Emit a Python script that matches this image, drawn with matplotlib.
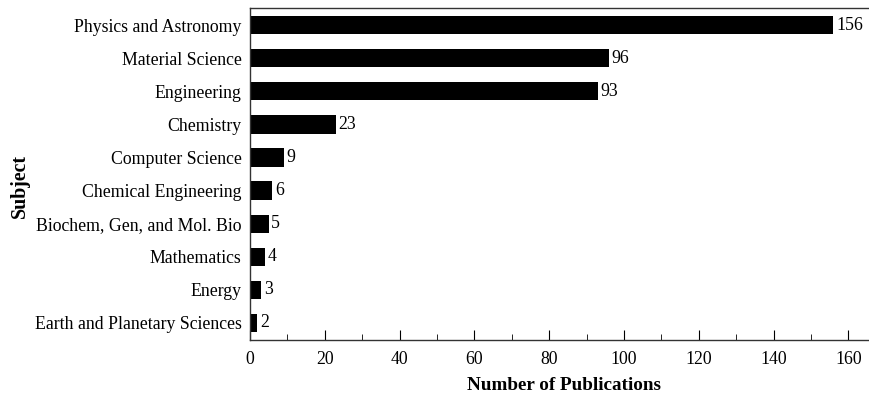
import matplotlib.pyplot as plt
from matplotlib.ticker import MultipleLocator

# publications per subject area
subjects = ['Earth and Planetary Sciences', 'Energy', 'Mathematics',
            'Biochem, Gen, and Mol. Bio', 'Chemical Engineering',
            'Computer Science', 'Chemistry', 'Engineering',
            'Material Science', 'Physics and Astronomy']
counts = [2, 3, 4, 5, 6, 9, 23, 93, 96, 156]

plt.rcParams['font.family'] = ['Liberation Serif', 'DejaVu Serif']

fig = plt.figure(figsize=(8.69, 4.01), dpi=100)
ax = fig.add_axes([0.2877, 0.152, 0.7123, 0.828])

ax.barh(range(len(subjects)), counts, height=0.55, color='black')
for i, c in enumerate(counts):
    ax.text(c + 0.7, i, str(c), va='center', ha='left', fontsize=12.8)

ax.set_yticks(range(len(subjects)))
ax.set_yticklabels(subjects, fontsize=12.8)
ax.set_ylim(-0.52, 9.52)
ax.set_xlim(0, 165.5)

ax.xaxis.set_major_locator(MultipleLocator(20))
ax.xaxis.set_minor_locator(MultipleLocator(10))
ax.tick_params(axis='x', which='major', direction='in', length=7, labelsize=12.8, pad=8)
ax.tick_params(axis='x', which='minor', direction='in', length=4)
ax.tick_params(axis='y', length=0, pad=6)

ax.spines['right'].set_visible(False)
for s in ['top', 'bottom', 'left']:
    ax.spines[s].set_linewidth(1.0)
    ax.spines[s].set_color('#333333')

ax.set_xlabel('Number of Publications', fontsize=13.8, fontweight='bold')
ax.set_ylabel('Subject', fontsize=14.3, fontweight='bold')
ax.xaxis.set_label_coords(0.508, -0.11)
ax.yaxis.set_label_coords(-0.355, 0.464)

fig.savefig('out.png', dpi=100)
